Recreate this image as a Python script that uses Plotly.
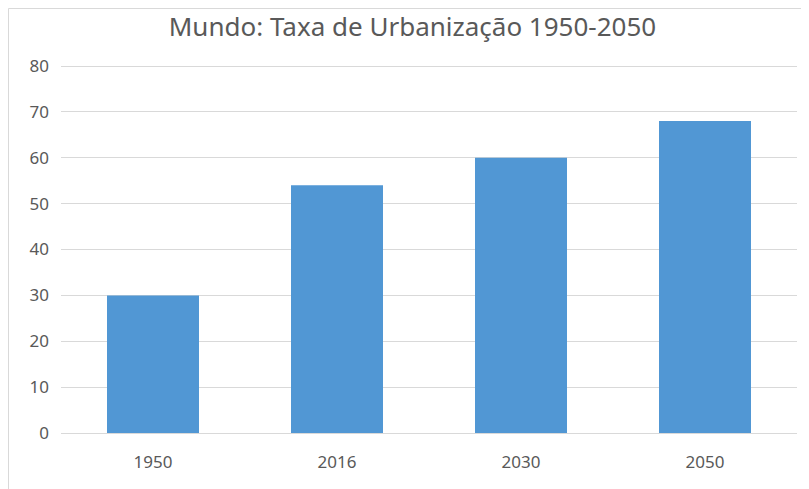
import plotly.graph_objects as go

# data
years = ["1950", "2016", "2030", "2050"]
urban_rate = [30, 54, 60, 68]
y_ticks = [0, 10, 20, 30, 40, 50, 60, 70, 80]

TEXT = "#595959"
GRID = "#d9d9d9"
FONT = "Noto Sans, Open Sans, sans-serif"

fig = go.Figure()
fig.add_trace(
    go.Bar(
        x=years,
        y=urban_rate,
        marker=dict(color="#5197d4", line=dict(width=0)),
        showlegend=False,
        hoverinfo="x+y",
    )
)

# the page body adds an 8px offset, so margins are shifted to compensate
W, H = 809, 489
L, R, T, B = 53, 20, 54, 64
pw, ph = W - L - R, H - T - B
pad = 4  # px of headroom so the 80 gridline is drawn

fig.update_layout(
    width=W,
    height=H,
    margin=dict(l=L, r=R, t=T, b=B),
    paper_bgcolor="white",
    plot_bgcolor="white",
    bargap=0.5,
    font=dict(family=FONT, color=TEXT, size=17),
    title=dict(
        text="Mundo: Taxa de Urbanização 1950-2050",
        x=0.5,
        xanchor="center",
        y=1 - 19 / H,
        yanchor="middle",
        font=dict(size=26, color=TEXT, family=FONT),
    ),
    xaxis=dict(
        showgrid=False,
        showline=True,
        linecolor=GRID,
        linewidth=1,
        ticks="",
        tickfont=dict(size=17, color=TEXT),
        ticklabelstandoff=14,
    ),
    yaxis=dict(
        range=[0, 80 * ph / (ph - pad)],
        tickvals=y_ticks,
        showgrid=True,
        gridcolor=GRID,
        gridwidth=1,
        zeroline=False,
        showline=False,
        ticks="",
        tickfont=dict(size=17, color=TEXT),
        ticklabelstandoff=11,
    ),
    # chart frame (only the left and top edges are visible in the reference)
    shapes=[
        dict(type="line", xref="paper", yref="paper",
             x0=(0.5 - L) / pw, x1=1 + R / pw, y0=1 + (T - 0.5) / ph, y1=1 + (T - 0.5) / ph,
             line=dict(color=GRID, width=1)),
        dict(type="line", xref="paper", yref="paper",
             x0=(0.5 - L) / pw, x1=(0.5 - L) / pw, y0=1 + (T - 0.5) / ph, y1=-B / ph,
             line=dict(color=GRID, width=1)),
    ],
)

fig.write_html("out.html")
